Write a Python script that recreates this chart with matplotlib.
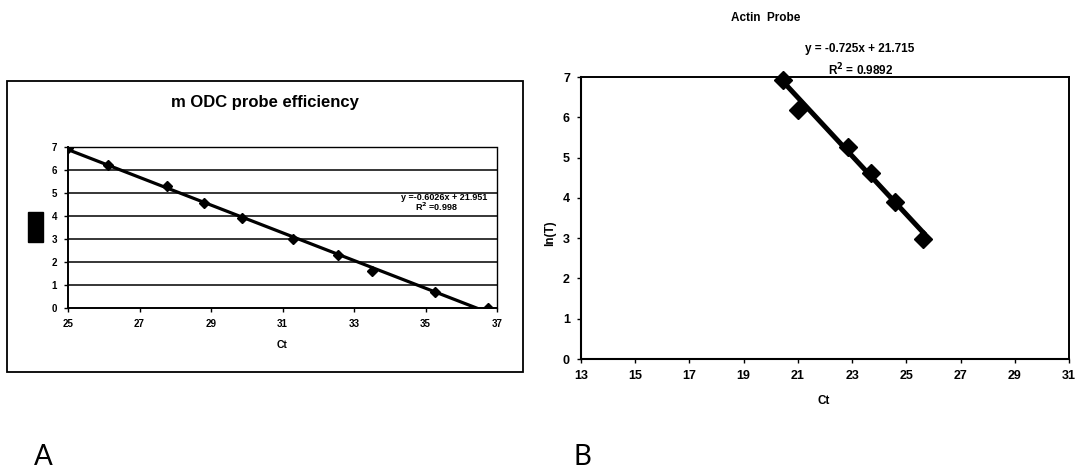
import matplotlib
matplotlib.use("Agg")
import matplotlib.pyplot as plt
from matplotlib.patches import Rectangle
import numpy as np

plt.rcParams["font.family"] = ["Liberation Sans", "DejaVu Sans"]
plt.rcParams["font.weight"] = "bold"

# panel A - mODC probe
odc_ct = [25.0, 26.13, 27.76, 28.8, 29.86, 31.3, 32.56, 33.5, 35.26, 36.75]
odc_ln = [6.95, 6.2, 5.3, 4.58, 3.9, 3.0, 2.3, 1.62, 0.7, 0.0]
odc_slope, odc_icpt = -0.6026, 21.951
odc_eq = "y =-0.6026x + 21.951"
odc_r2 = "R$^2$ =0.998"
odc_xticks = [25, 27, 29, 31, 33, 35, 37]
odc_yticks = [0, 1, 2, 3, 4, 5, 6, 7]

# panel B - actin probe
act_ct = [20.45, 21.0, 22.86, 23.68, 24.6, 25.63]
act_ln = [6.93, 6.19, 5.27, 4.61, 3.89, 2.97]
act_slope, act_icpt = -0.725, 21.715
act_eq = "y = -0.725x + 21.715"
act_r2 = "R$^2$ = 0.9892"
act_xticks = [13, 15, 17, 19, 21, 23, 25, 27, 29, 31]
act_yticks = [0, 1, 2, 3, 4, 5, 6, 7]

W, H = 1079, 475
fig = plt.figure(figsize=(W / 100, H / 100), dpi=100)

def fx(x):
    return x / W

def fy(y):
    return 1 - y / H

# outer chart box of panel A and the blacked out y label
fig.patches.append(Rectangle((fx(7), fy(372)), fx(516), 291 / H, transform=fig.transFigure,
                             fill=False, edgecolor="black", linewidth=1.3))
fig.patches.append(Rectangle((fx(28), fy(242)), fx(15), 30 / H, transform=fig.transFigure,
                             facecolor="black", edgecolor="black"))

# ---- panel A
axA = fig.add_axes([fx(68), fy(308), fx(497 - 68), (308 - 147) / H])
for v in odc_yticks[1:-1]:
    axA.axhline(v, color="black", linewidth=1.1, zorder=1)
xa = np.array([odc_ct[0], odc_ct[-1]])
axA.plot(xa, odc_slope * xa + odc_icpt, color="black", linewidth=2.3, zorder=3)
axA.plot(odc_ct, odc_ln, "D", color="black", markersize=5, zorder=4)
axA.set_xlim(25, 37)
axA.set_ylim(0, 7)
axA.set_xticks(odc_xticks)
axA.set_yticks(odc_yticks)
axA.tick_params(labelsize=7, length=3, width=1, pad=5)
for s in ["top", "right"]:
    axA.spines[s].set_linestyle((0, (1, 1)))
    axA.spines[s].set_linewidth(1.0)
for s in ["left", "bottom"]:
    axA.spines[s].set_linewidth(1.4)
fig.text(fx(265), fy(102), "m ODC probe efficiency", ha="center", va="center",
         fontsize=12, fontweight="bold")
fig.text(fx(282), fy(345), "Ct", ha="center", va="center", fontsize=7.5)
fig.text(fx(487), fy(197), odc_eq, ha="right", va="center", fontsize=6.5)
fig.text(fx(437), fy(207), odc_r2, ha="center", va="center", fontsize=6.5)

# ---- panel B
axB = fig.add_axes([fx(581), fy(359), fx(1069 - 581), (359 - 77) / H])
xb = np.array([act_ct[0], act_ct[-1]])
axB.plot(xb, act_slope * xb + act_icpt, color="black", linewidth=3.6, zorder=3)
axB.plot(act_ct, act_ln, "D", color="black", markersize=9, zorder=4, clip_on=False)
axB.set_xlim(13, 31)
axB.set_ylim(0, 7)
axB.set_xticks(act_xticks)
axB.set_yticks(act_yticks)
axB.tick_params(labelsize=9, length=3, width=1, pad=5)
for s in ["top", "right"]:
    axB.spines[s].set_linestyle((0, (1, 1)))
    axB.spines[s].set_linewidth(1.4)
for s in ["left", "bottom"]:
    axB.spines[s].set_linewidth(1.5)
fig.text(fx(766), fy(18), "Actin  Probe", ha="center", va="center", fontsize=8.5)
fig.text(fx(860), fy(49), act_eq, ha="center", va="center", fontsize=8.5)
fig.text(fx(861), fy(70), act_r2, ha="center", va="center", fontsize=8.5)
fig.text(fx(550), fy(233), "ln(T)", ha="center", va="center", rotation=90, fontsize=8.5)
fig.text(fx(824), fy(401), "Ct", ha="center", va="center", fontsize=8.5)

# panel letters
fig.text(fx(43), fy(457), "A", ha="center", va="center", fontsize=20,
         fontweight="normal", family="Lato")
fig.text(fx(582), fy(457), "B", ha="center", va="center", fontsize=20,
         fontweight="normal", family="Lato")

fig.savefig("out.png", dpi=100)
